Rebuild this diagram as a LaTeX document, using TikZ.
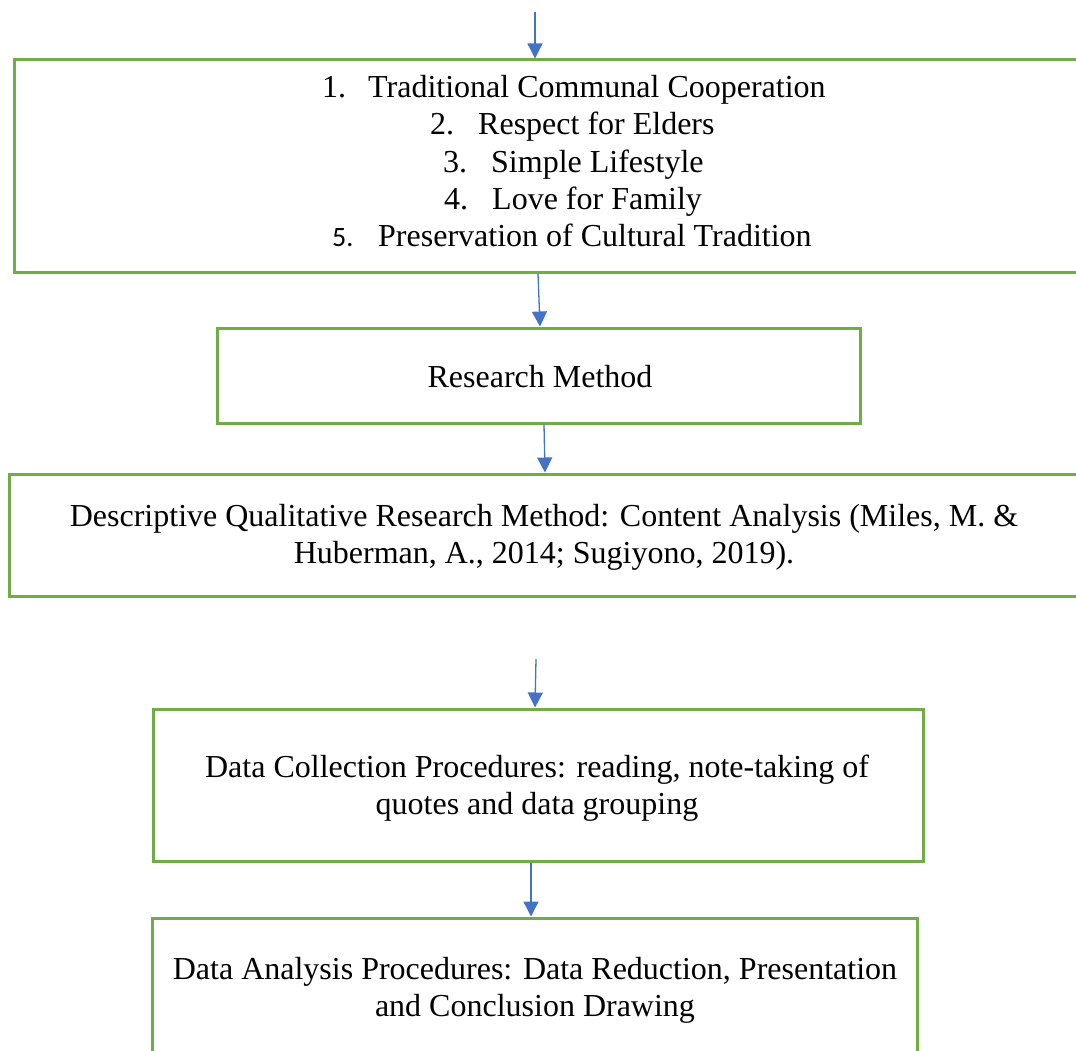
\documentclass[tikz,border=0pt]{standalone}
\usepackage{fontspec}
\setmainfont{Liberation Serif}
\newfontfamily\calib{Carlito}
\usetikzlibrary{arrows.meta}
\definecolor{boxgreen}{HTML}{70AD47}
\definecolor{arrblue}{HTML}{4472C4}
\tikzset{
  box/.style={draw=boxgreen, line width=3pt, rectangle, inner sep=0pt, fill=white},
  arr/.style={draw=arrblue, line width=1.3pt, -{Triangle[width=15pt,length=15pt]}},
  txt/.style={inner sep=0pt, font=\fontsize{32}{36.8}\selectfont},
  ctxt/.style={txt, align=center},
}
\begin{document}
\begin{tikzpicture}[x=1pt,y=-1pt]
\useasboundingbox (0,0) rectangle (1076,1051);
\fill[white] (0,0) rectangle (1076,1051);
\clip (0,0) rectangle (1076,1051);
% boxes
\node[box, minimum width=1116pt, minimum height=212pt] (b1) at (572,166) {};
\node[box, minimum width=643pt, minimum height=95pt] (b2) at (538.5,375.5) {};
\node[box, minimum width=1070pt, minimum height=122pt] (b3) at (544,535) {};
\node[box, minimum width=770pt, minimum height=152pt] (b4) at (538,785) {};
\node[box, minimum width=765pt, minimum height=300pt] (b5) at (534.5,1068) {};
% list in box 1
\node[txt, anchor=base west] (n1) at (322,98) {1.};
\node[txt, anchor=base west] (t1) at (368,98) {Traditional Communal Cooperation};
\node[txt, anchor=base west] (n2) at (430,135) {2.};
\node[txt, anchor=base west] (t2) at (478,135) {Respect for Elders};
\node[txt, anchor=base west] (n3) at (443,173) {3.};
\node[txt, anchor=base west] (t3) at (491,173) {Simple Lifestyle};
\node[txt, anchor=base west] (n4) at (444,210) {4.};
\node[txt, anchor=base west] (t4) at (492,210) {Love for Family};
\node[txt, anchor=base west, font=\calib\fontsize{28}{34}\selectfont] (n5) at (332,247) {5.};
\node[txt, anchor=base west] (t5) at (378,247) {Preservation of Cultural Tradition};
% other texts
\node[ctxt] (l2) at (540,377) {Research Method};
\node[ctxt] (l3) at (544,537) {Descriptive Qualitative Research Method: Content Analysis (Miles, M. \&\\Huberman, A., 2014; Sugiyono, 2019).};
\node[ctxt] (l4) at (537,788) {Data Collection Procedures: reading, note-taking of\\quotes and data grouping};
\node[ctxt] (l5) at (535,990) {Data Analysis Procedures: Data Reduction, Presentation\\and Conclusion Drawing};
% arrows
\coordinate (top) at (535,12);
\coordinate (mid) at (536,659);
\draw[arr] (top) -- (535,0 |- b1.north);
\draw[arr] (538,0 |- b1.south) -- (540,0 |- b2.north);
\draw[arr] (544,0 |- b2.south) -- (545,0 |- b3.north);
\draw[arr] (mid) -- (535,0 |- b4.north);
\draw[arr] (531,0 |- b4.south) -- (531,0 |- b5.north);
\end{tikzpicture}
\end{document}
